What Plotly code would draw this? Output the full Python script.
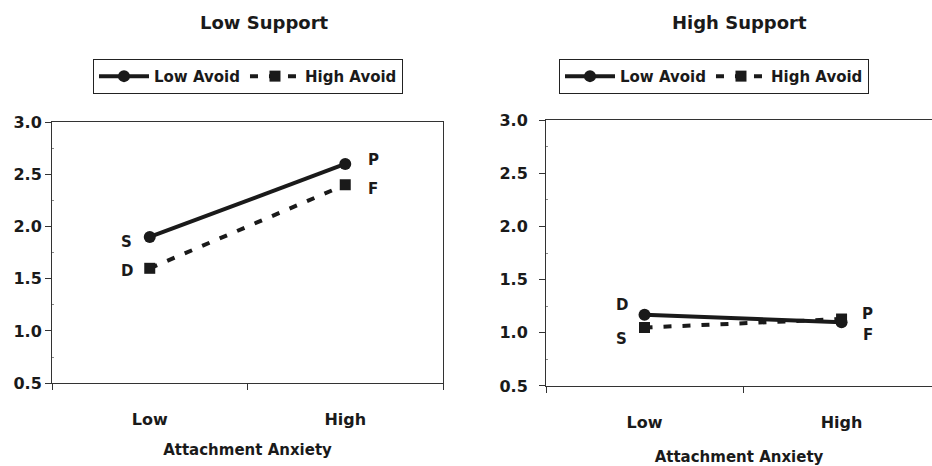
import plotly.graph_objects as go

# ---- data ----
anxiety = ["Low", "High"]
series_names = ["Low Avoid", "High Avoid"]
panel_titles = ["Low Support", "High Support"]

low_support_low_avoid = [1.9, 2.6]
low_support_high_avoid = [1.6, 2.4]
high_support_low_avoid = [1.17, 1.10]
high_support_high_avoid = [1.05, 1.13]

# point labels (per series, per anxiety level)
low_support_low_avoid_labels = ["S", "P"]
low_support_high_avoid_labels = ["D", "F"]
high_support_low_avoid_labels = ["D", "F"]
high_support_high_avoid_labels = ["S", "P"]

y_ticks = [0.5, 1.0, 1.5, 2.0, 2.5, 3.0]
x_title = "Attachment Anxiety"

FONT = "DejaVu Sans"
BLACK = "#1a1a1a"

fig = go.Figure()

styles = {
    "Low Avoid": dict(line=dict(color=BLACK, width=4), marker=dict(symbol="circle", size=12, color=BLACK)),
    "High Avoid": dict(line=dict(color=BLACK, width=4, dash="8px,11px"), marker=dict(symbol="square", size=11, color=BLACK)),
}

panels = [
    ("x", "y", "legend", [low_support_low_avoid, low_support_high_avoid]),
    ("x2", "y2", "legend2", [high_support_low_avoid, high_support_high_avoid]),
]
for xa, ya, lg, vals in panels:
    for name, v in zip(series_names, vals):
        st = styles[name]
        fig.add_trace(go.Scatter(
            x=anxiety, y=v, name=name, mode="lines+markers",
            line=st["line"], marker=st["marker"],
            xaxis=xa, yaxis=ya, legend=lg, hoverinfo="x+y+name",
        ))

# point label annotations (offsets in px)
label_sets = [
    ("x", "y", low_support_low_avoid, low_support_low_avoid_labels, [(-23, -5), (28, 4)]),
    ("x", "y", low_support_high_avoid, low_support_high_avoid_labels, [(-23, -3), (28, -4)]),
    ("x2", "y2", high_support_low_avoid, high_support_low_avoid_labels, [(-23, 10), (26, -13)]),
    ("x2", "y2", high_support_high_avoid, high_support_high_avoid_labels, [(-23, -11), (26, 5)]),
]
for xa, ya, vals, labs, offs in label_sets:
    for cat, v, lab, (dx, dy) in zip(anxiety, vals, labs, offs):
        fig.add_annotation(x=cat, y=v, xref=xa, yref=ya, text=lab, showarrow=False,
                           xshift=dx, yshift=dy,
                           font=dict(family=FONT, size=15, color=BLACK, weight="bold"))

# panel titles
for xc, t in zip([264 / 932, 739 / 932], panel_titles):
    fig.add_annotation(x=xc, y=(466 - 14) / 466, xref="paper", yref="paper", text=t,
                       showarrow=False, xanchor="center", yanchor="middle",
                       font=dict(family=FONT, size=18, color=BLACK, weight="bold"))

tickfont = dict(family=FONT, size=16, color=BLACK, weight="bold")
common_x = dict(type="category", categoryorder="array", categoryarray=anxiety,
                showline=True, linecolor="#333", linewidth=1, ticks="outside", ticklen=6,
                tickcolor="#333", tickson="boundaries", showgrid=False, zeroline=False,
                tickfont=tickfont, ticklabelstandoff=22,
                title=dict(text=x_title, font=dict(family=FONT, size=15, color=BLACK, weight="bold"), standoff=16))
common_y = dict(range=[0.5, 3.0], tickvals=y_ticks, tickformat=".1f", showline=True,
                linecolor="#333", linewidth=1, ticks="outside", ticklen=6, tickcolor="#333",
                showgrid=False, zeroline=False, tickfont=tickfont,
                minor=dict(tickvals=[0.75, 1.25, 1.75, 2.25, 2.75], ticks="inside", ticklen=2,
                           tickcolor="#888"))

fig.update_layout(
    width=932, height=466, margin=dict(l=0, r=0, t=0, b=0),
    paper_bgcolor="white", plot_bgcolor="white",
    font=dict(family=FONT, color=BLACK),
    xaxis=dict(common_x, domain=[52 / 932, 443 / 932], range=[-0.5, 1.5], mirror=True, anchor="y"),
    yaxis=dict(common_y, domain=[(466 - 390) / 466, (466 - 118) / 466], mirror=True, anchor="x"),
    xaxis2=dict(common_x, domain=[546 / 932, 1.0], range=[-0.5, 1.459], mirror=True, anchor="y2",
                title=dict(text=x_title, font=dict(family=FONT, size=15, color=BLACK, weight="bold"), standoff=22)),
    yaxis2=dict(common_y, domain=[(466 - 393) / 466, (466 - 116) / 466], anchor="x2",
                ticklabelstandoff=8),
    legend=dict(orientation="h", x=93 / 932, y=(466 - 52) / 466, xanchor="left", yanchor="top",
                bordercolor="#222", borderwidth=1, bgcolor="white", itemwidth=50,
                font=dict(family=FONT, size=15, color=BLACK, weight="bold")),
    legend2=dict(orientation="h", x=559 / 932, y=(466 - 52) / 466, xanchor="left", yanchor="top",
                 bordercolor="#222", borderwidth=1, bgcolor="white", itemwidth=50,
                 font=dict(family=FONT, size=15, color=BLACK, weight="bold")),
)

fig.write_html("out.html", config={"displayModeBar": False},
               post_script="document.body.style.margin='0';")
